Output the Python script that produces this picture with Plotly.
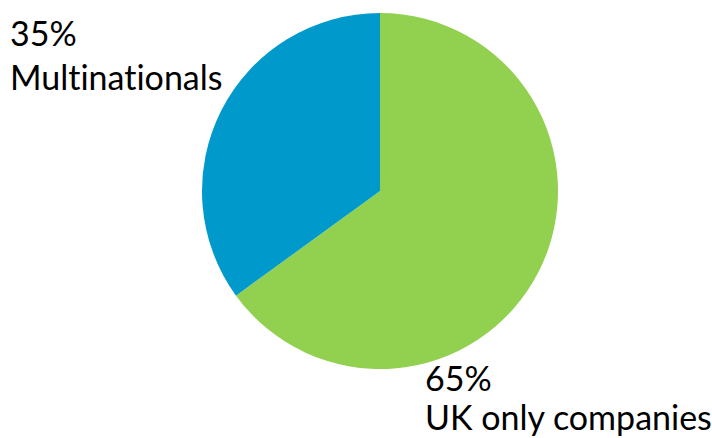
import plotly.graph_objects as go

# Share of companies by type
labels = ["UK only companies", "Multinationals"]
shares = [65, 35]
colors = ["#92D050", "#0099CC"]

W, H = 712, 438

fig = go.Figure(
    go.Pie(
        labels=labels,
        values=shares,
        sort=False,
        direction="clockwise",
        rotation=0,
        marker=dict(colors=colors, line=dict(width=0)),
        textinfo="none",
        hoverinfo="label+percent",
        showlegend=False,
        domain=dict(x=[202 / W, 558 / W], y=[(H - 369) / H, (H - 13) / H]),
    )
)

font = dict(family="Lato, Open Sans, sans-serif", size=34, color="#000000")

# Label positions (paper px from top-left): percentage line, name line
label_pos = {
    "Multinationals": (8, 33, 77),
    "UK only companies": (423, 377, 416),
}


def no_ligature(s):
    # keep "t" and "i" as separate glyphs
    return s.replace("ti", "t\u200ci")


for lab, val in zip(labels, shares):
    x, y1, y2 = label_pos[lab]
    for text, y in ((f"{val}%", y1), (no_ligature(lab), y2)):
        fig.add_annotation(
            x=x / W, y=1 - y / H, xref="paper", yref="paper",
            xanchor="left", yanchor="middle", text=text,
            showarrow=False, font=font, align="left",
        )

fig.update_layout(
    width=W, height=H,
    margin=dict(l=0, r=0, t=0, b=0),
    paper_bgcolor="white", plot_bgcolor="white",
)

fig.write_html("out.html")
